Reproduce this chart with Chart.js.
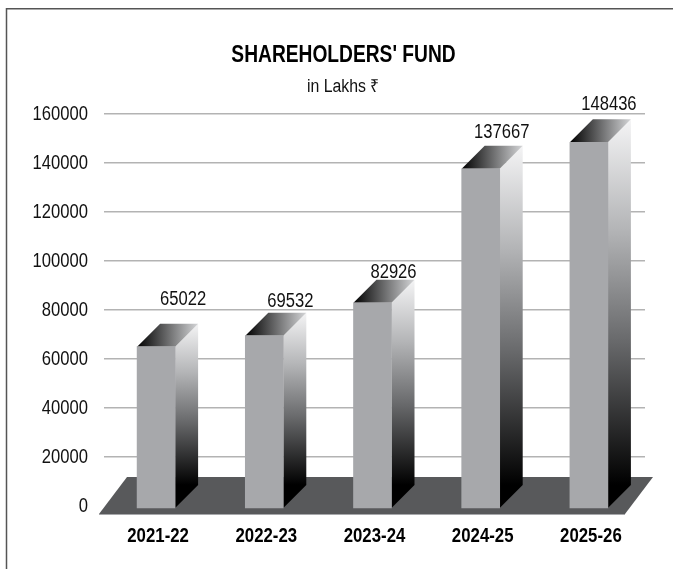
<!DOCTYPE html>
<html><head><meta charset="utf-8">
<style>html,body{margin:0;padding:0;background:#fff}#w{width:673px;height:569px;position:relative}</style>
<script src="https://cdn.jsdelivr.net/npm/chart.js@4"></script></head>
<body><div id="w"><canvas id="c" width="673" height="569"></canvas></div>
<script>
const categories = ['2021-22','2022-23','2023-24','2024-25','2025-26'];
const fundValues = [65022,69532,82926,137667,148436];
const yTicks = [0,20000,40000,60000,80000,100000,120000,140000,160000];
const FONT = '"Liberation Sans",Arial,sans-serif';
const labelNudge = [[27,-12],[26,1],[21,5],[21,-1],[20,-3]];
const DEPTH = 23, SHIFT = -2;

function condensed(s,f){
  if(s._cond) return; s._cond=true;
  const draw=s.drawLabels;
  s.drawLabels=function(a){
    const ctx=s.ctx, ft=ctx.fillText;
    ctx.fillText=function(t,x,y){return ft.call(ctx,t,x,y,ctx.measureText(t).width*f);};
    draw.call(s,a);
    delete ctx.fillText;
  };
}
function narrowText(ctx,t,x,y,f){ctx.fillText(t,x,y,ctx.measureText(t).width*f);}

const scene = {
  id:'scene',
  beforeDraw(ch){
    const {ctx,width,height}=ch;
    ctx.save();
    ctx.strokeStyle='#555'; ctx.lineWidth=1.5;
    ctx.beginPath(); ctx.moveTo(6.5,height+2); ctx.lineTo(6.5,8.8); ctx.lineTo(width+2,8.8); ctx.stroke();
    ctx.restore();
  },
  beforeDatasetsDraw(ch){
    const {ctx,chartArea:a}=ch;
    ctx.save();
    ctx.fillStyle='#58595b';
    ctx.beginPath();
    ctx.moveTo(a.left-5,a.bottom+8); ctx.lineTo(a.right-20,a.bottom+8);
    ctx.lineTo(a.right+8,a.bottom-29); ctx.lineTo(a.left+23,a.bottom-29);
    ctx.closePath(); ctx.fill();
    ctx.strokeStyle='#a7a8ab'; ctx.lineWidth=1;
    ctx.beginPath(); ctx.moveTo(a.left-5,a.bottom+8.5); ctx.lineTo(a.right-20,a.bottom+8.5); ctx.stroke();
    ctx.restore();
    ctx.save();
    ctx.translate(SHIFT,0);
    ch.getDatasetMeta(0).data.forEach(b=>{
      const p=b.getProps(['x','y','base','width'],true);
      const l=p.x-p.width/2, r=p.x+p.width/2;
      const g=ctx.createLinearGradient(0,p.y-DEPTH,0,p.base-DEPTH);
      g.addColorStop(0,'#f4f4f5'); g.addColorStop(0.3,'#b4b5b7'); g.addColorStop(0.6,'#6a6b6d'); g.addColorStop(1,'#000');
      ctx.fillStyle=g;
      ctx.beginPath(); ctx.moveTo(r,p.y); ctx.lineTo(r+DEPTH,p.y-DEPTH); ctx.lineTo(r+DEPTH,p.base-DEPTH); ctx.lineTo(r,p.base); ctx.closePath(); ctx.fill();
      const t=ctx.createLinearGradient(l,0,r+DEPTH,0);
      t.addColorStop(0,'#000'); t.addColorStop(1,'#d4d5d7');
      ctx.fillStyle=t;
      ctx.beginPath(); ctx.moveTo(l,p.y); ctx.lineTo(l+DEPTH,p.y-DEPTH); ctx.lineTo(r+DEPTH,p.y-DEPTH); ctx.lineTo(r,p.y); ctx.closePath(); ctx.fill();
    });
  },
  afterDatasetsDraw(ch){
    ch.ctx.restore();
    const {ctx}=ch;
    ctx.save();
    ctx.fillStyle='#111'; ctx.font='20px '+FONT; ctx.textAlign='center'; ctx.textBaseline='middle';
    ch.getDatasetMeta(0).data.forEach((b,i)=>{
      narrowText(ctx,String(fundValues[i]), b.x+SHIFT+labelNudge[i][0], b.y-35+labelNudge[i][1], 0.83);
    });
    ctx.fillStyle='#000';
    ctx.font='bold 24px '+FONT; narrowText(ctx,"SHAREHOLDERS' FUND", 343.5, 55, 0.8);
    ctx.fillStyle='#111';
    ctx.font='18px '+FONT; narrowText(ctx,'in Lakhs ₹', 343, 87, 0.88);
    ctx.restore();
  }
};

new Chart(document.getElementById('c'),{
  type:'bar',
  data:{labels:categories,datasets:[{data:fundValues,backgroundColor:'#a7a8ab',borderWidth:0,barThickness:38,base:-800,clip:false}]},
  plugins:[scene],
  options:{
    responsive:false,animation:false,
    layout:{padding:{left:0,right:28,top:114,bottom:0}},
    plugins:{legend:{display:false},tooltip:{enabled:false},title:{display:false}},
    scales:{
      x:{grid:{display:false},border:{display:false},
        afterFit(s){s.height=63;},afterUpdate(s){condensed(s,0.84);},
        ticks:{color:'#000',font:{family:FONT,size:20,weight:'bold'},padding:10,maxRotation:0}},
      y:{min:0,max:160000,afterFit(s){s.width=104;},afterUpdate(s){condensed(s,0.83);},
        afterBuildTicks(s){s.ticks=yTicks.map(v=>({value:v}));},
        grid:{color:c=>c.tick&&c.tick.value===0?'rgba(0,0,0,0)':'#b3b3b3',lineWidth:1.5,drawTicks:false},
        border:{display:false},
        ticks:{color:'#111',font:{family:FONT,size:20},padding:16,callback:v=>String(v)}}
    }
  }
});
</script></body></html>
